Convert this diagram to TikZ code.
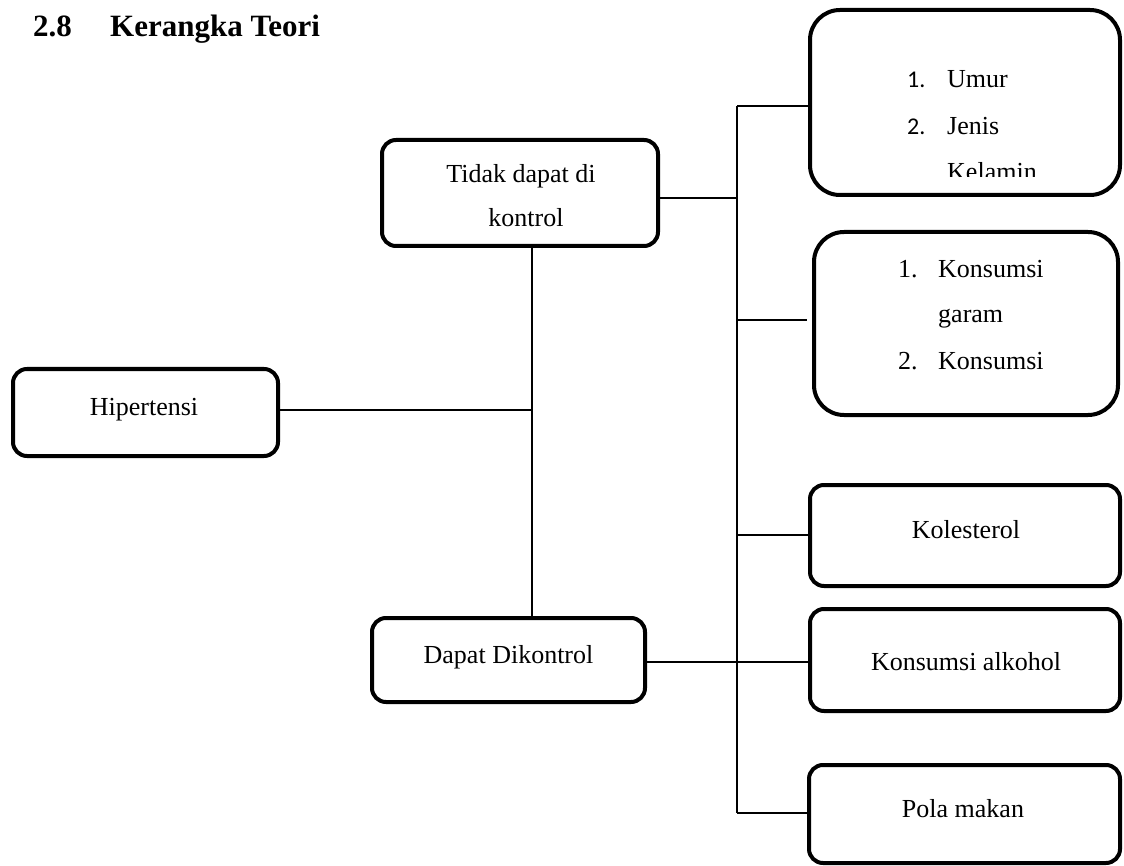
\documentclass[tikz,border=0pt]{standalone}
\usepackage{fontspec}
\setmainfont{Liberation Serif}
\newfontfamily\numfont{Carlito}
\begin{document}
\begin{tikzpicture}[x=1pt,y=-1pt,
  box/.style={draw, line width=4pt, rounded corners=14pt, inner sep=0pt},
  bigbox/.style={box, rounded corners=30pt},
  conn/.style={line width=1.5pt},
  txt/.style={font=\fontsize{26}{30}\selectfont, anchor=base, inner sep=0pt},
  txtw/.style={txt, anchor=base west},
  numw/.style={font=\numfont\fontsize{24}{28}\selectfont, anchor=base west, inner sep=0pt},
  head/.style={font=\fontsize{31}{36}\selectfont\bfseries, anchor=base west, inner sep=0pt}]
\useasboundingbox (0,0) rectangle (1124,866);

% title
\node[head] (secnum) at (33,37) {2.8};
\node[head] (sectitle) at (110,37) {Kerangka Teori};

% boxes
\node[bigbox, minimum width=310pt, minimum height=185pt] (umur) at (965,102.5) {};
\node[bigbox, minimum width=304pt, minimum height=183pt] (konsumsi) at (966,323.5) {};
\node[box, minimum width=276pt, minimum height=106pt] (tidak) at (520,193) {};
\node[box, minimum width=265pt, minimum height=87pt] (hip) at (145.5,412.5) {};
\node[box, minimum width=273pt, minimum height=84pt] (dapat) at (508.5,660) {};
\node[box, minimum width=310pt, minimum height=101pt] (kol) at (965,535.5) {};
\node[box, minimum width=310pt, minimum height=102pt] (alk) at (965,660) {};
\node[box, minimum width=311pt, minimum height=98pt] (pola) at (964.5,814) {};

% texts
\node[txt] (tHip) at (144,415) {Hipertensi};
\node[txt] (tTid1) at (521,183) {Tidak dapat di};
\node[txt] (tTid2) at (526,227) {kontrol};
\node[txt] (tDap) at (508.5,663) {Dapat Dikontrol};
\node[txt] (tKolT) at (966,538) {Kolesterol};
\node[txt] (tAlkT) at (966,670) {Konsumsi alkohol};
\node[txt] (tPolT) at (963,817) {Pola makan};

\node[numw] (n1a) at (907,88) {1.};
\node[txtw] (umurT) at (947,88) {Umur};
\node[numw] (n2a) at (907,135) {2.};
\node[txtw] (jenisT) at (947,135) {Jenis};
\begin{scope}
  \clip (900,150) rectangle (1100,177);
  \node[txtw] (kelT) at (947,181) {Kelamin};
\end{scope}

\node[txtw] (n1b) at (898,278) {1.};
\node[txtw] (kons1) at (938,278) {Konsumsi};
\node[txtw] (garamT) at (938,323) {garam};
\node[txtw] (n2b) at (898,370) {2.};
\node[txtw] (kons2) at (938,370) {Konsumsi};

% connectors
\coordinate (tTop) at (737,106);
\coordinate (tTidak) at (737,198);
\coordinate (tKons) at (737,320);
\coordinate (tKol) at (737,535);
\coordinate (tAlk) at (737,662);
\coordinate (tPola) at (737,813);
\coordinate (jHip) at (532,410);

\draw[conn] (tTop) -- (tPola);
\draw[conn] (tTop) -- (umur.west |- tTop);
\draw[conn] (tidak.east |- tTidak) -- (tTidak);
\draw[conn, shorten >=5pt] (tKons) -- (konsumsi.west |- tKons);
\draw[conn] (tKol) -- (kol.west |- tKol);
\draw[conn] (dapat.east |- tAlk) -- (alk.west |- tAlk);
\draw[conn] (tPola) -- (pola.west |- tPola);
\draw[conn] (tidak.south -| jHip) -- (dapat.north -| jHip);
\draw[conn] (hip.east |- jHip) -- (jHip);
\end{tikzpicture}
\end{document}
